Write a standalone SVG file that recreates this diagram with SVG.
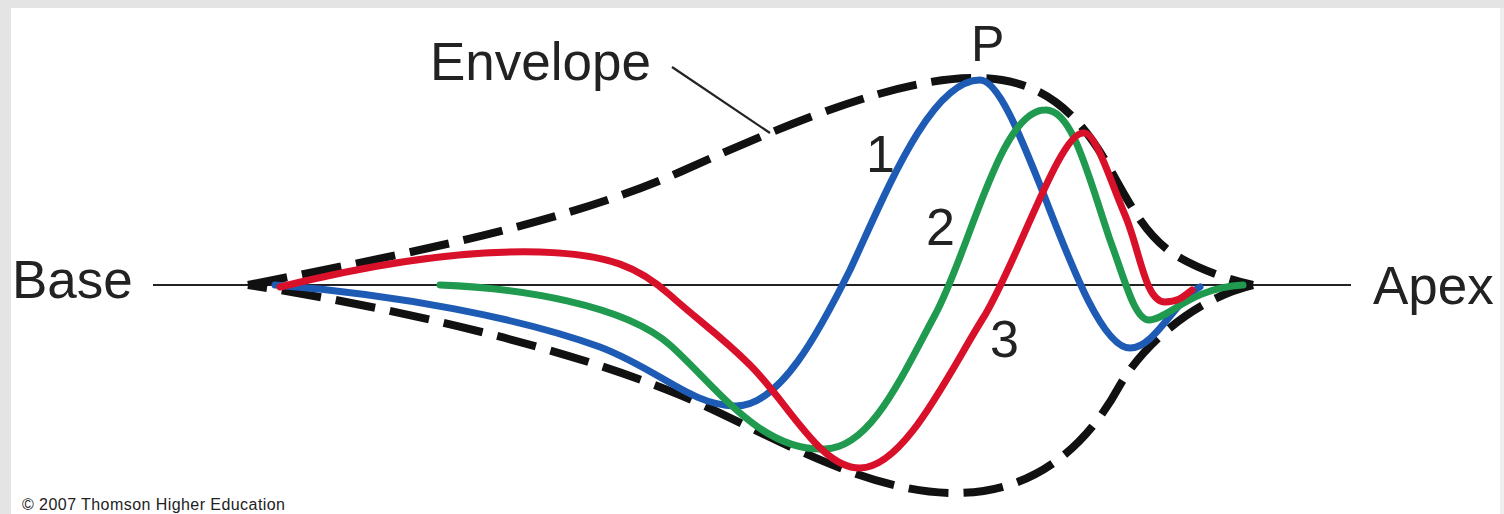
<svg xmlns="http://www.w3.org/2000/svg" width="1504" height="514" viewBox="0 0 1504 514">
  <style>
    .lbl { font-family: "Liberation Sans", Arial, sans-serif; fill: #222; }
    .env { fill: none; stroke: #111; stroke-width: 8; stroke-dasharray: 40 15; }
    .wave { fill: none; stroke-width: 7; stroke-linecap: round; stroke-linejoin: round; }
    .thin { fill: none; stroke: #222; stroke-width: 2.2; }
  </style>
  <g id="background">
    <rect x="0" y="0" width="1504" height="514" fill="#e4e4e4"/>
    <rect x="1500" y="8" width="4" height="506" fill="#efefef"/>
    <rect x="11" y="8" width="1489" height="506" fill="#ffffff"/>
  </g>
  <g id="axis">
    <line class="thin" x1="153" y1="285" x2="1351" y2="285"/>
  </g>
  <g id="envelope">
    <path class="env" d="M248,285 C400,255 560,225 680,172 C800,118 900,78 975,78 C1040,78 1075,110 1105,160 C1130,205 1145,235 1175,255 C1200,270 1230,280 1253,285"/>
    <path class="env" d="M1253,285 C1190,300 1140,350 1120,385 C1090,440 1040,493 955,493 C860,493 760,428 680,395 C560,345 380,305 248,285"/>
  </g>
  <g id="connectors">
    <line class="thin" x1="672" y1="67" x2="770" y2="133"/>
  </g>
  <g id="wave1">
    <path class="wave" stroke="#1e5bb5" d="M275,285 C400,295 520,318 600,347 C660,370 690,405 735,406 C780,407 820,330 850,270 C885,195 930,80 980,80 C998,80 1020,135 1040,185 C1065,248 1100,348 1130,348 C1155,348 1175,300 1200,287"/>
  </g>
  <g id="wave2">
    <path class="wave" stroke="#1f9a4f" d="M440,285 C520,288 625,305 670,345 C715,385 760,452 825,449 C870,448 900,380 935,315 C970,250 1000,110 1045,110 C1072,108 1088,175 1110,240 C1125,280 1135,322 1150,320 C1170,318 1190,288 1243,285"/>
  </g>
  <g id="wave3">
    <path class="wave" stroke="#d8102a" d="M280,287 C380,262 470,250 540,252 C610,254 640,268 670,295 C700,322 720,335 750,365 C790,405 820,468 860,468 C905,468 950,370 985,315 C1020,255 1060,133 1083,133 C1095,130 1110,180 1125,215 C1140,250 1145,302 1165,302 C1180,302 1185,295 1192,290"/>
  </g>
  <g id="labels">
    <text class="lbl" x="12" y="298" font-size="53">Base</text>
    <text class="lbl" x="1373" y="304" font-size="53">Apex</text>
    <text class="lbl" x="430" y="80" font-size="53">Envelope</text>
    <text class="lbl" x="971" y="61" font-size="50">P</text>
    <text class="lbl" x="866" y="172" font-size="52">1</text>
    <text class="lbl" x="926" y="245" font-size="52">2</text>
    <text class="lbl" x="990" y="357" font-size="52">3</text>
    <text class="lbl" x="22" y="510" font-size="16" textLength="263" lengthAdjust="spacing">© 2007 Thomson Higher Education</text>
  </g>
</svg>
